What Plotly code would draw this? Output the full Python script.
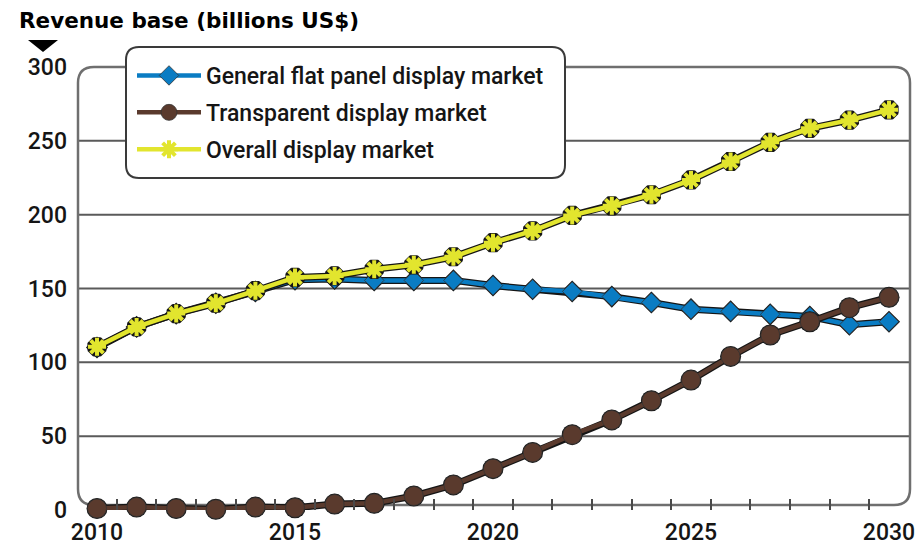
import plotly.graph_objects as go

years = list(range(2010, 2031))
general_fpd = [110, 124, 133, 140, 148, 156, 156.5, 155.5, 155.5, 155.5, 152,
               149.5, 148, 144.5, 140.5, 136, 134.5, 132.5, 131, 125.5, 127.5]
transparent = [1, 2, 1, 0.5, 2, 1.5, 4, 4.5, 9.5, 17, 28,
               39, 51, 61, 74, 88, 104, 118.5, 127.5, 137, 144]
overall = [110.5, 124, 133, 140, 148.5, 157.5, 158.5, 163, 166, 171.5, 181,
           189, 199.5, 206, 213.5, 223.5, 236, 249, 258.5, 264, 271]

series_names = ["General flat panel display market",
                "Transparent display market",
                "Overall display market"]
y_ticks = [0, 50, 100, 150, 200, 250, 300]
grid_vals = [50, 100, 150, 200, 250]
x_label_ticks = [2010, 2015, 2020, 2025, 2030]
x_minor_ticks = [y + 0.5 for y in years[:-1]]

BLUE = "#0a7cc3"
BROWN = "#5a3a2d"
YELLOW = "#e2e52e"
DARK = "#151515"
FONT = "Roboto"

W, H = 918, 547
ML, MR, MT, MB = 78, 8, 67, 37
PW, PH = W - ML - MR, H - MT - MB


def px(x):
    return (x - ML) / PW


def py(y):
    return (H - MB - y) / PH


def rounded_rect(x0, y0, x1, y1, r):
    # pixel coords -> paper path with rounded corners
    rx, ry = r / PW, r / PH
    X0, X1, Y0, Y1 = px(x0), px(x1), py(y1), py(y0)  # Y0 bottom, Y1 top
    return (f"M {X0+rx},{Y1} L {X1-rx},{Y1} Q {X1},{Y1} {X1},{Y1-ry} "
            f"L {X1},{Y0+ry} Q {X1},{Y0} {X1-rx},{Y0} "
            f"L {X0+rx},{Y0} Q {X0},{Y0} {X0},{Y0+ry} "
            f"L {X0},{Y1-ry} Q {X0},{Y1} {X0+rx},{Y1} Z")


fig = go.Figure()

specs = [
    (general_fpd, BLUE, "diamond", 15, 0),
    (transparent, BROWN, "circle", 19, 1),
    (overall, YELLOW, "asterisk", 15, 2),
]

for vals, color, sym, size, i in specs:
    # dark shadow underneath
    if sym == "asterisk":
        shadow_marker = dict(symbol="asterisk", size=size + 1,
                             line=dict(color=DARK, width=7.5))
        main_marker = dict(symbol="asterisk", size=size,
                           line=dict(color=color, width=4))
    else:
        shadow_marker = dict(symbol=sym, size=size + 2, color=DARK,
                             line=dict(width=0))
        main_marker = dict(symbol=sym, size=size, color=color,
                           line=dict(width=0.8, color="#333333"))
    fig.add_trace(go.Scatter(
        x=years, y=vals, mode="lines+markers", showlegend=False,
        hoverinfo="skip", cliponaxis=False,
        line=dict(color=DARK, width=7), marker=shadow_marker))
    fig.add_trace(go.Scatter(
        x=years, y=vals, mode="lines+markers", name=series_names[i],
        legendgroup=f"g{i}", cliponaxis=False,
        line=dict(color=color, width=4.5), marker=main_marker))

shapes = []
# horizontal grid lines
for g in grid_vals:
    shapes.append(dict(type="line", xref="paper", yref="y", x0=0, x1=1,
                       y0=g, y1=g, line=dict(color="#5a5a5a", width=2),
                       layer="below"))
# plot frame with rounded corners
shapes.append(dict(type="path", xref="paper", yref="paper",
                   path=rounded_rect(78, 67, 910, 505, 16),
                   line=dict(color="#6f6f6f", width=2.5), layer="below"))
# legend box
shapes.append(dict(type="path", xref="paper", yref="paper",
                   path=rounded_rect(126, 47, 565, 178, 13),
                   fillcolor="white",
                   line=dict(color="#3a3a3a", width=2), layer="below"))
# triangle under the title
shapes.append(dict(type="path", xref="paper", yref="paper",
                   path=f"M {px(28)},{py(40)} L {px(58)},{py(40)} L {px(43)},{py(52)} Z",
                   fillcolor="black", line=dict(width=0)))

fig.update_layout(
    width=W, height=H,
    margin=dict(l=ML, r=MR, t=MT, b=MB),
    paper_bgcolor="white", plot_bgcolor="white",
    font=dict(family=FONT, size=24, color=DARK),
    shapes=shapes,
    xaxis=dict(range=[2009.52, 2030.53], tickmode="array",
               tickvals=x_label_ticks, ticks="",
               showgrid=False, zeroline=False, showline=False,
               automargin=False, ticklabelstandoff=6,
               ticklabeloverflow="allow",
               tickfont=dict(family=FONT, size=23, color=DARK, weight=500),
               minor=dict(tickmode="array", tickvals=x_minor_ticks,
                          ticks="inside", ticklen=11, tickwidth=2,
                          tickcolor="#4a4a4a", showgrid=False)),
    yaxis=dict(range=[0, 300], tickmode="array", tickvals=y_ticks,
               ticks="", showgrid=False, zeroline=False, showline=False,
               automargin=False, ticklabelstandoff=10,
               tickfont=dict(family=FONT, size=23, color=DARK, weight=500)),
    legend=dict(x=px(132), y=py(54), xanchor="left", yanchor="top",
                bgcolor="rgba(0,0,0,0)", borderwidth=0,
                font=dict(family=FONT, size=23, color=DARK, weight=500),
                tracegroupgap=4, itemwidth=64),
    annotations=[dict(text="<b>Revenue base (billions US$)</b>",
                      xref="paper", yref="paper", x=px(17), y=py(21),
                      xanchor="left", yanchor="middle", showarrow=False,
                      font=dict(family="DejaVu Sans", size=21.5, color="black"))],
)

fig.write_html("out.html")
